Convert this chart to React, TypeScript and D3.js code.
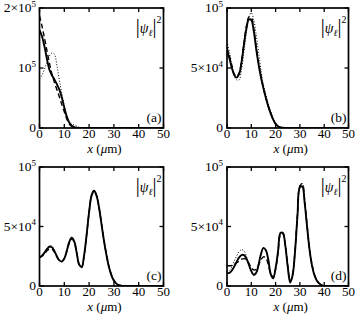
import React, { useRef, useEffect } from 'react';
import * as d3 from 'd3';

// values in units of 10^4
const xsA = [0, 1, 2, 3, 4, 5, 6, 7, 8, 9, 10, 11, 12, 13, 14, 15, 16, 18, 20, 50];
const solidA = [16.3, 15.3, 13.6, 11.5, 9.7, 8.8, 8.1, 7.3, 6.4, 5.1, 3.4, 1.9, 0.9, 0.4, 0.15, 0.05, 0, 0, 0, 0];
const dashedA = [18.7, 17.0, 15.0, 12.9, 10.8, 9.0, 7.6, 6.4, 5.2, 3.9, 2.7, 1.5, 0.7, 0.25, 0.05, 0, 0, 0, 0, 0];
const dottedA = [8.2, 8.8, 9.8, 11.0, 12.0, 12.5, 12.3, 10.5, 8.0, 5.8, 3.6, 2.0, 0.9, 0.6, 0.5, 0.3, 0.1, 0, 0, 0];

const xsB = [0, 1, 2, 3, 4, 5, 6, 7, 8, 9, 10, 11, 12, 13, 14, 15, 16, 17, 18, 19, 20, 21, 22, 24, 50];
const solidB = [6.45, 5.8, 5.0, 4.4, 4.2, 4.5, 5.5, 7.0, 8.3, 9.05, 9.0, 8.1, 6.6, 5.3, 4.2, 3.3, 2.5, 1.8, 1.2, 0.7, 0.35, 0.15, 0.05, 0, 0];
const dashedB = [6.7, 6.0, 5.2, 4.5, 4.3, 4.6, 5.6, 7.1, 8.5, 9.25, 9.2, 8.3, 6.8, 5.4, 4.3, 3.3, 2.5, 1.8, 1.2, 0.7, 0.35, 0.15, 0.05, 0, 0];
const dottedB = [7.2, 6.3, 5.3, 4.4, 4.0, 4.0, 4.9, 6.4, 8.0, 9.3, 9.6, 9.0, 7.8, 6.3, 4.8, 3.6, 2.8, 2.0, 1.4, 0.85, 0.45, 0.2, 0.08, 0, 0];

const xsC = [0, 1, 2, 3, 4, 5, 6, 7, 8, 9, 10, 11, 12, 13, 14, 15, 16, 17, 18, 19, 20, 21, 22, 23, 24, 25, 26, 27, 28, 29, 30, 31, 32, 33, 34, 50];
const solidC = [2.4, 2.55, 2.8, 3.1, 3.3, 3.25, 2.95, 2.5, 2.15, 2.05, 2.3, 2.95, 3.7, 4.05, 3.75, 2.8, 1.8, 1.6, 2.6, 4.3, 6.2, 7.6, 8.0, 7.6, 6.6, 5.2, 3.8, 2.6, 1.6, 0.9, 0.45, 0.2, 0.07, 0.02, 0, 0];
const dashedC = [2.35, 2.5, 2.7, 2.95, 3.1, 3.1, 2.85, 2.45, 2.15, 2.05, 2.3, 2.9, 3.6, 3.95, 3.7, 2.8, 1.8, 1.55, 2.6, 4.3, 6.2, 7.6, 7.95, 7.6, 6.6, 5.25, 3.85, 2.65, 1.65, 0.95, 0.5, 0.22, 0.08, 0.02, 0, 0];
const dottedC = [2.4, 2.6, 2.85, 3.15, 3.4, 3.35, 3.0, 2.55, 2.2, 2.1, 2.35, 3.0, 3.75, 4.1, 3.8, 2.85, 1.85, 1.6, 2.6, 4.3, 6.2, 7.6, 8.05, 7.65, 6.6, 5.2, 3.8, 2.6, 1.6, 0.9, 0.45, 0.2, 0.07, 0.02, 0, 0];

const xsD = [0, 1, 2, 3, 4, 5, 6, 7, 8, 9, 10, 11, 12, 13, 14, 15, 16, 17, 18, 19, 20, 21, 22, 23, 24, 25, 26, 27, 28, 29, 30, 31, 32, 33, 34, 35, 36, 37, 38, 39, 40, 50];
const solidD = [1.07, 1.1, 1.3, 1.65, 2.05, 2.4, 2.6, 2.6, 2.3, 1.8, 1.25, 0.95, 1.1, 1.8, 2.7, 3.2, 3.0, 2.2, 1.0, 0.65, 1.5, 2.9, 4.45, 4.45, 3.4, 1.6, 0.3, 0.9, 2.9, 5.9, 8.3, 8.35, 6.9, 4.9, 3.0, 1.7, 0.9, 0.45, 0.2, 0.07, 0, 0];
const dashedD = [1.7, 1.7, 1.72, 1.8, 1.95, 2.1, 2.25, 2.3, 2.2, 1.9, 1.55, 1.35, 1.4, 1.75, 2.2, 2.45, 2.35, 1.8, 1.0, 0.75, 1.4, 2.8, 4.3, 4.4, 3.4, 1.7, 0.4, 1.0, 3.0, 6.0, 8.4, 8.6, 7.1, 5.0, 3.1, 1.8, 0.95, 0.5, 0.2, 0.07, 0, 0];
const dottedD = [1.2, 1.3, 1.6, 2.1, 2.55, 2.9, 3.05, 2.95, 2.5, 1.85, 1.2, 0.9, 1.05, 1.8, 2.7, 3.2, 3.0, 2.2, 0.95, 0.65, 1.5, 2.9, 4.5, 4.5, 3.4, 1.6, 0.3, 0.9, 3.0, 6.1, 8.5, 8.6, 7.0, 4.9, 3.0, 1.7, 0.9, 0.45, 0.2, 0.07, 0, 0];

const xTickValues = [0, 10, 20, 30, 40, 50];
const yTickLabelsTop = ['0', '10^5', '2×10^5'];
const yTickLabelsOther = ['0', '5×10^4', '10^5'];
const panelTags = ['(a)', '(b)', '(c)', '(d)'];

const W = 361;
const H = 317;

const App = () => {
  const svgRef = useRef(null);

  useEffect(() => {
    const svg = d3.select(svgRef.current);
    svg.selectAll('*').remove();

    const panels = [
      { tag: panelTags[0], xs: xsA, solid: solidA, dashed: dashedA, dotted: dottedA, yMax: 20, yLabels: yTickLabelsTop, x0: 39.5, x1: 163.5, y0: 8, y1: 128, lx: 36 },
      { tag: panelTags[1], xs: xsB, solid: solidB, dashed: dashedB, dotted: dottedB, yMax: 10, yLabels: yTickLabelsOther, x0: 227, x1: 348.5, y0: 8, y1: 128, lx: 223 },
      { tag: panelTags[2], xs: xsC, solid: solidC, dashed: dashedC, dotted: dottedC, yMax: 10, yLabels: yTickLabelsOther, x0: 39.5, x1: 163.5, y0: 167, y1: 286, lx: 36 },
      { tag: panelTags[3], xs: xsD, solid: solidD, dashed: dashedD, dotted: dottedD, yMax: 10, yLabels: yTickLabelsOther, x0: 227, x1: 348.5, y0: 167, y1: 286, lx: 223 },
    ];

    const font = '"Liberation Serif", "DejaVu Serif", serif';
    const fs = 13;

    panels.forEach(p => {
      const x = d3.scaleLinear().domain([0, 50]).range([p.x0, p.x1]);
      const y = d3.scaleLinear().domain([0, p.yMax]).range([p.y1, p.y0]);
      const g = svg.append('g');

      // clip for curves
      const clipId = 'clip' + p.tag.replace(/[()]/g, '');
      svg.append('clipPath').attr('id', clipId)
        .append('rect')
        .attr('x', p.x0).attr('y', p.y0)
        .attr('width', p.x1 - p.x0).attr('height', p.y1 - p.y0);

      const line = (vals: number[]) => d3.line<number>()
        .x((d, i) => x(p.xs[i]))
        .y(d => y(d))
        .curve(d3.curveCatmullRom.alpha(0.5))(vals);

      const curves = g.append('g').attr('clip-path', `url(#${clipId})`);
      curves.append('path').attr('d', line(p.dotted))
        .attr('fill', 'none').attr('stroke', '#000').attr('stroke-width', 1)
        .attr('stroke-dasharray', '1,1.8');
      curves.append('path').attr('d', line(p.dashed))
        .attr('fill', 'none').attr('stroke', '#000').attr('stroke-width', 1.4)
        .attr('stroke-dasharray', '5,3');
      curves.append('path').attr('d', line(p.solid))
        .attr('fill', 'none').attr('stroke', '#000').attr('stroke-width', 1.9);

      // ticks on all four sides, pointing inward
      const tl = 4;
      xTickValues.forEach(v => {
        g.append('line').attr('x1', x(v)).attr('x2', x(v)).attr('y1', p.y1).attr('y2', p.y1 - tl)
          .attr('stroke', '#000').attr('stroke-width', 1.3);
        g.append('line').attr('x1', x(v)).attr('x2', x(v)).attr('y1', p.y0).attr('y2', p.y0 + tl)
          .attr('stroke', '#000').attr('stroke-width', 1.3);
        g.append('text').attr('x', x(v)).attr('y', p.y1 + 10)
          .attr('text-anchor', 'middle').attr('font-family', font).attr('font-size', fs)
          .text(v);
      });
      const yTicks = [0, p.yMax / 2, p.yMax];
      yTicks.forEach((v, i) => {
        g.append('line').attr('x1', p.x0).attr('x2', p.x0 + tl).attr('y1', y(v)).attr('y2', y(v))
          .attr('stroke', '#000').attr('stroke-width', 1.3);
        g.append('line').attr('x1', p.x1).attr('x2', p.x1 - tl).attr('y1', y(v)).attr('y2', y(v))
          .attr('stroke', '#000').attr('stroke-width', 1.3);
        const [base, exp] = p.yLabels[i].split('^');
        const t = g.append('text').attr('x', p.lx).attr('y', y(v) + 4)
          .attr('text-anchor', 'end').attr('font-family', font).attr('font-size', fs + 0.5);
        t.append('tspan').text(base);
        if (exp) t.append('tspan').attr('dy', -5.5).attr('font-size', 9).text(exp);
      });

      // frame
      g.append('rect').attr('x', p.x0).attr('y', p.y0)
        .attr('width', p.x1 - p.x0).attr('height', p.y1 - p.y0)
        .attr('fill', 'none').attr('stroke', '#000').attr('stroke-width', 1.7);

      // |psi_l|^2 label
      const lab = g.append('text').attr('x', p.x1 - 2).attr('y', p.y0 + 25)
        .attr('text-anchor', 'end').attr('font-family', font).attr('font-size', 14);
      lab.append('tspan').attr('font-size', 20).text('|');
      lab.append('tspan').attr('font-style', 'italic').text('ψ');
      lab.append('tspan').attr('font-style', 'italic').attr('font-size', 9.5).attr('dy', 3).text('ℓ');
      lab.append('tspan').attr('font-size', 20).attr('dy', -3).text('|');
      lab.append('tspan').attr('font-size', 10).attr('dy', -10).text('2');

      // panel tag
      g.append('text').attr('x', p.x1 - 2).attr('y', p.y1 - 6)
        .attr('text-anchor', 'end').attr('font-family', font).attr('font-size', fs + 0.5)
        .text(p.tag);

      // x axis label
      const xl = g.append('text').attr('x', (p.x0 + p.x1) / 2 + 3).attr('y', p.y1 + 24.5)
        .attr('text-anchor', 'middle').attr('font-family', font).attr('font-size', fs);
      xl.append('tspan').attr('font-style', 'italic').text('x');
      xl.append('tspan').text(' (');
      xl.append('tspan').attr('font-style', 'italic').text('μ');
      xl.append('tspan').text('m)');
    });
  }, []);

  return (
    <div>
      <svg ref={svgRef} width={W} height={H}
        style={{ position: 'absolute', left: 0, top: 0, background: '#fff' }}></svg>
    </div>
  );
};

export default App;
